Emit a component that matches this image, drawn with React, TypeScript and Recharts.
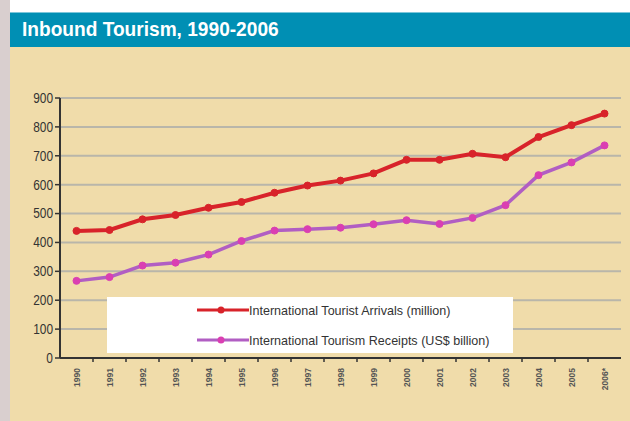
import React from 'react';
import { LineChart, Line, XAxis, YAxis, CartesianGrid } from 'recharts';

const years = ['1990', '1991', '1992', '1993', '1994', '1995', '1996', '1997', '1998', '1999', '2000', '2001', '2002', '2003', '2004', '2005', '2006*'];
const arrivals = [440, 443, 480, 495, 520, 540, 572, 597, 614, 639, 686, 686, 707, 695, 765, 806, 846];
const receipts = [267, 280, 320, 330, 358, 405, 441, 446, 451, 463, 477, 464, 485, 529, 633, 677, 736];
const yTicks = [0, 100, 200, 300, 400, 500, 600, 700, 800, 900];

const seriesNames = {
    arrivals: 'International Tourist Arrivals (million)',
    receipts: 'International Tourism Receipts (US$ billion)',
};

const RED = '#d8232a';
const PURPLE = '#b15ec3';
const MAGENTA = '#da3fb2';
const FONT = '"Liberation Sans", Arial, sans-serif';

const data = years.map((year, i) => ({
    year,
    arrivals: arrivals[i],
    receipts: receipts[i],
}));

const STEP = 561 / years.length;

const XTick = (props: any) => {
    const { x, y, payload, index } = props;
    return (
        <g>
            {index < years.length - 1 && (
                <line x1={x + STEP / 2} y1={y - 8} x2={x + STEP / 2} y2={y - 4} stroke="#333" strokeWidth={1.5} />
            )}
            <text
                x={x}
                y={y + 2}
                transform={`rotate(-90, ${x}, ${y + 2})`}
                textAnchor="end"
                dominantBaseline="central"
                fontSize={8.5}
                fontWeight="bold"
                fontFamily={FONT}
                fill="#555"
            >
                {payload.value}
            </text>
        </g>
    );
};

const YTick = (props: any) => {
    const { x, y, payload } = props;
    return (
        <text
            x={0}
            y={0}
            transform={`translate(${x}, ${y}) scale(0.85, 1)`}
            textAnchor="end"
            dominantBaseline="central"
            fontSize={14}
            fontFamily={FONT}
            fill="#333"
        >
            {payload.value}
        </text>
    );
};

const legendItems = [
    { name: seriesNames.arrivals, line: RED, dot: RED, top: 13 },
    { name: seriesNames.receipts, line: PURPLE, dot: MAGENTA, top: 43 },
];

export default function App() {
    return (
        <div style={{ position: 'absolute', left: 0, top: 0, width: 630, height: 421, background: '#fff', overflow: 'hidden' }}>
            <div style={{ position: 'absolute', left: 0, top: 0, width: 10, height: 421, background: '#d9cfcf' }} />
            <div style={{ position: 'absolute', left: 10, top: 47, width: 620, height: 374, background: '#f0dcaa' }} />
            <div style={{ position: 'absolute', left: 10, top: 12, width: 620, height: 35, background: '#008fb4', borderTop: '1px solid #7cc6da', boxSizing: 'border-box' }}>
                <div style={{ position: 'absolute', left: 12, top: 4, color: '#fff', fontFamily: FONT, fontWeight: 'bold', fontSize: 21, whiteSpace: 'nowrap', transform: 'scaleX(0.91)', transformOrigin: 'left center' }}>
                    Inbound Tourism, 1990-2006
                </div>
            </div>
            <div style={{ position: 'absolute', left: 0, top: 0 }}>
                <LineChart width={630} height={421} data={data} margin={{ top: 98, right: 9, bottom: 23, left: 7 }}>
                    <CartesianGrid horizontal vertical={false} stroke="#b9b6aa" strokeWidth={2} />
                    <XAxis
                        dataKey="year"
                        scale="band"
                        height={40}
                        axisLine={{ stroke: '#333', strokeWidth: 2 }}
                        tickLine={false}
                        tick={<XTick />}
                        interval={0}
                    />
                    <YAxis
                        domain={[0, 900]}
                        ticks={yTicks}
                        width={53}
                        axisLine={{ stroke: '#333', strokeWidth: 2 }}
                        tickLine={{ stroke: '#333', strokeWidth: 1.5 }}
                        tickSize={5}
                        tick={<YTick />}
                    />
                    <Line
                        dataKey="arrivals"
                        name={seriesNames.arrivals}
                        stroke={RED}
                        strokeWidth={4}
                        dot={{ r: 3.5, fill: RED, stroke: RED, strokeWidth: 1 }}
                        isAnimationActive={false}
                    />
                    <Line
                        dataKey="receipts"
                        name={seriesNames.receipts}
                        stroke={PURPLE}
                        strokeWidth={3.5}
                        dot={{ r: 3.5, fill: MAGENTA, stroke: MAGENTA, strokeWidth: 1 }}
                        isAnimationActive={false}
                    />
                </LineChart>
            </div>
            <div style={{ position: 'absolute', left: 107, top: 297, width: 406, height: 56, background: '#fff' }}>
                {legendItems.map(item => (
                    <div key={item.name} style={{ position: 'absolute', left: 90, top: item.top - 8, height: 16, display: 'flex', alignItems: 'center' }}>
                        <svg width={52} height={16}>
                            <line x1={0} y1={8} x2={52} y2={8} stroke={item.line} strokeWidth={3} />
                            <circle cx={24} cy={8} r={3.5} fill={item.dot} />
                        </svg>
                        <span style={{ fontFamily: FONT, fontSize: 13.5, color: '#333', display: 'inline-block', transform: 'scaleX(0.93)', transformOrigin: 'left center', whiteSpace: 'nowrap' }}>{item.name}</span>
                    </div>
                ))}
            </div>
        </div>
    );
}
